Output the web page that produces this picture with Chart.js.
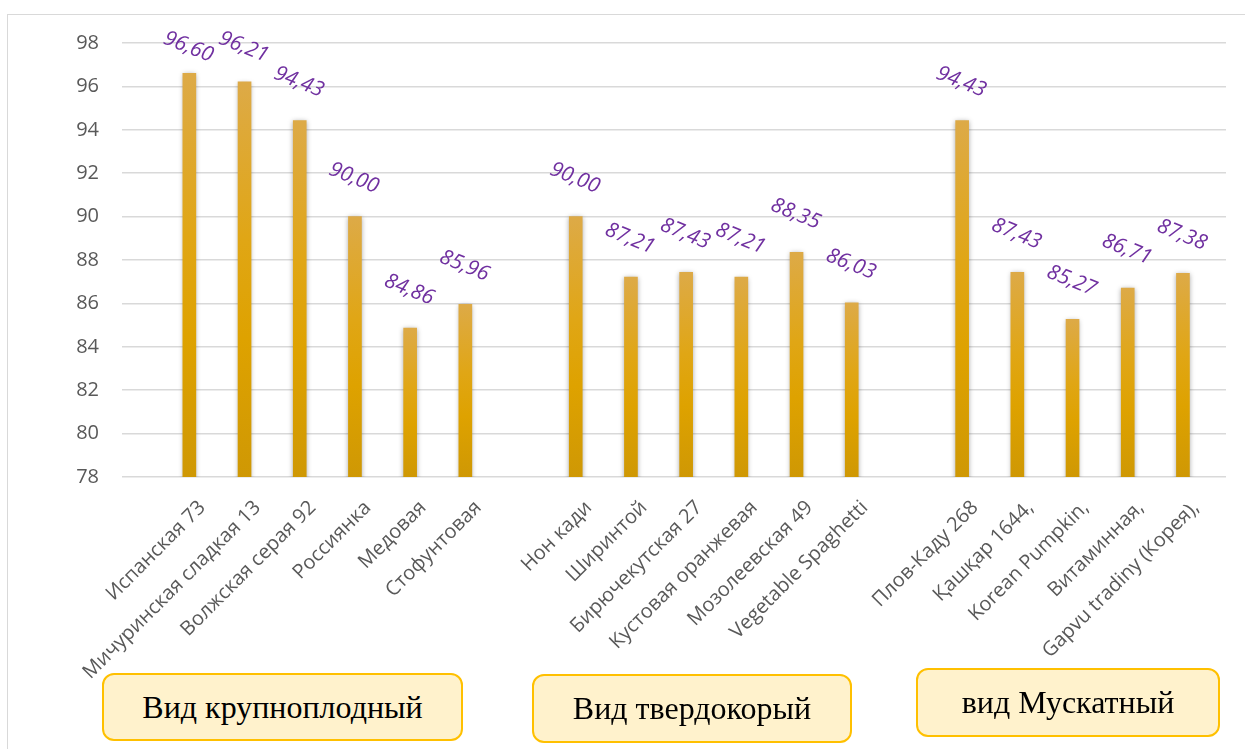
<!DOCTYPE html>
<html>
<head>
<meta charset="utf-8">
<title>Урожайность сортов тыквы</title>
<script src="https://cdn.jsdelivr.net/npm/chart.js@4.4.1/dist/chart.umd.min.js"></script>
<style>
  html, body { margin: 0; padding: 0; background: #fff; overflow: hidden; }
  #wrap { position: relative; width: 1245px; height: 749px; }
  #frame { position: absolute; left: 7px; top: 14px; width: 1260px; height: 760px;
           border: 1.5px solid #d9d9d9; box-sizing: border-box; }
  #plot { position: absolute; left: 0; top: 0; width: 1245px; height: 749px; }
  .group { position: absolute; background: #FFF2CC; border: 2.5px solid #FFC000;
           border-radius: 12px; box-sizing: border-box; color: #000;
           font-family: "Liberation Serif", "Times New Roman", serif; font-size: 32px;
           display: flex; align-items: center; justify-content: center; }
</style>
</head>
<body>
<div id="wrap">
  <div id="frame"></div>
  <div id="plot"><canvas id="yieldChart"></canvas></div>
</div>
<script>
// ---- data ----
const varieties = [
  'Испанская 73', 'Мичуринская сладкая 13', 'Волжская серая 92', 'Россиянка', 'Медовая', 'Стофунтовая',
  '',
  'Нон кади', 'Ширинтой', 'Бирючекутская 27', 'Кустовая оранжевая', 'Мозолеевская 49', 'Vegetable Spaghetti',
  '',
  'Плов-Каду 268', 'Қашқар 1644,', 'Korean Pumpkin,', 'Витаминная,', 'Gapvu tradiny (Корея),'
];
const yieldValues = [
  96.60, 96.21, 94.43, 90.00, 84.86, 85.96,
  null,
  90.00, 87.21, 87.43, 87.21, 88.35, 86.03,
  null,
  94.43, 87.43, 85.27, 86.71, 87.38
];
const groupNames = ['Вид крупноплодный', 'Вид твердокорый', 'вид Мускатный'];
const yMin = 78;
const yMax = 98;
const yStep = 2;

// ---- layout of the group boxes (left, top, width, height) ----
const groupBoxes = [[102, 673, 361, 68], [532, 674, 320, 69], [916, 668, 304, 69]];
const wrap = document.getElementById('wrap');
groupNames.forEach((name, i) => {
  const [l, t, w, h] = groupBoxes[i];
  const div = document.createElement('div');
  div.className = 'group';
  div.style.cssText = `left:${l}px;top:${t}px;width:${w}px;height:${h}px`;
  div.textContent = name;
  wrap.appendChild(div);
});

const points = varieties
  .map((name, i) => ({ x: i, y: yieldValues[i] }))
  .filter(p => p.y !== null);

// bar gradient, light at the top of each bar
function barFill(context) {
  const chart = context.chart;
  const raw = context.raw;
  if (!chart.chartArea || !raw) return '#E0A50A';
  const y = chart.scales.y;
  const top = y.getPixelForValue(raw.y);
  const bottom = y.getPixelForValue(yMin);
  const g = chart.ctx.createLinearGradient(0, top, 0, bottom);
  g.addColorStop(0, '#DDAA47');
  g.addColorStop(0.4, '#E0A615');
  g.addColorStop(0.65, '#DEA200');
  g.addColorStop(1, '#CF9804');
  return g;
}

const barShadow = {
  id: 'barShadow',
  beforeDatasetDraw(chart) {
    const ctx = chart.ctx;
    ctx.save();
    ctx.shadowColor = 'rgba(0,0,0,0.35)';
    ctx.shadowBlur = 5;
    ctx.shadowOffsetX = 0;
    ctx.shadowOffsetY = 1;
  },
  afterDatasetDraw(chart) {
    chart.ctx.restore();
  }
};

const valueLabels = {
  id: 'valueLabels',
  afterDatasetsDraw(chart) {
    const ctx = chart.ctx;
    const meta = chart.getDatasetMeta(0);
    const data = chart.data.datasets[0].data;
    ctx.save();
    ctx.fillStyle = '#7030A0';
    ctx.font = 'italic 21px "Open Sans"';
    ctx.textAlign = 'center';
    ctx.textBaseline = 'middle';
    meta.data.forEach((bar, i) => {
      const text = data[i].y.toFixed(2).replace('.', ',');
      const cy = Math.max(bar.y - 38.5, 47);
      ctx.save();
      ctx.translate(bar.x - 1, cy);
      ctx.rotate(22 * Math.PI / 180);
      ctx.fillText(text, 0, 0);
      ctx.restore();
    });
    ctx.restore();
  }
};

new Chart(document.getElementById('yieldChart'), {
  type: 'bar',
  data: {
    datasets: [{
      data: points,
      backgroundColor: barFill,
      barThickness: 13,
      borderWidth: 0
    }]
  },
  options: {
    responsive: true,
    maintainAspectRatio: false,
    animation: false,
    layout: { padding: { left: 0, top: 43, right: 19, bottom: 0 } },
    plugins: { legend: { display: false }, tooltip: { enabled: false } },
    scales: {
      x: {
        type: 'linear',
        min: -1.22,
        max: 18.78,
        offset: false,
        grid: { display: false },
        border: { display: false },
        afterBuildTicks: s => {
          s.ticks = varieties.map((name, i) => ({ value: i })).filter(t => varieties[t.value] !== '');
        },
        afterFit: s => { s.height = 272; },
        ticks: {
          autoSkip: false,
          minRotation: 45,
          maxRotation: 45,
          padding: 11,
          labelOffset: 13,
          color: '#595959',
          font: { family: 'Open Sans', size: 20 },
          callback: v => varieties[v]
        }
      },
      y: {
        min: yMin,
        max: yMax,
        afterFit: s => { s.width = 122; },
        grid: { color: '#d9d9d9', lineWidth: 1.5, drawTicks: false },
        border: { display: false },
        ticks: {
          stepSize: yStep,
          padding: 23,
          color: '#595959',
          font: { family: 'Open Sans', size: 20 }
        }
      }
    }
  },
  plugins: [barShadow, valueLabels]
});
</script>
</body>
</html>
